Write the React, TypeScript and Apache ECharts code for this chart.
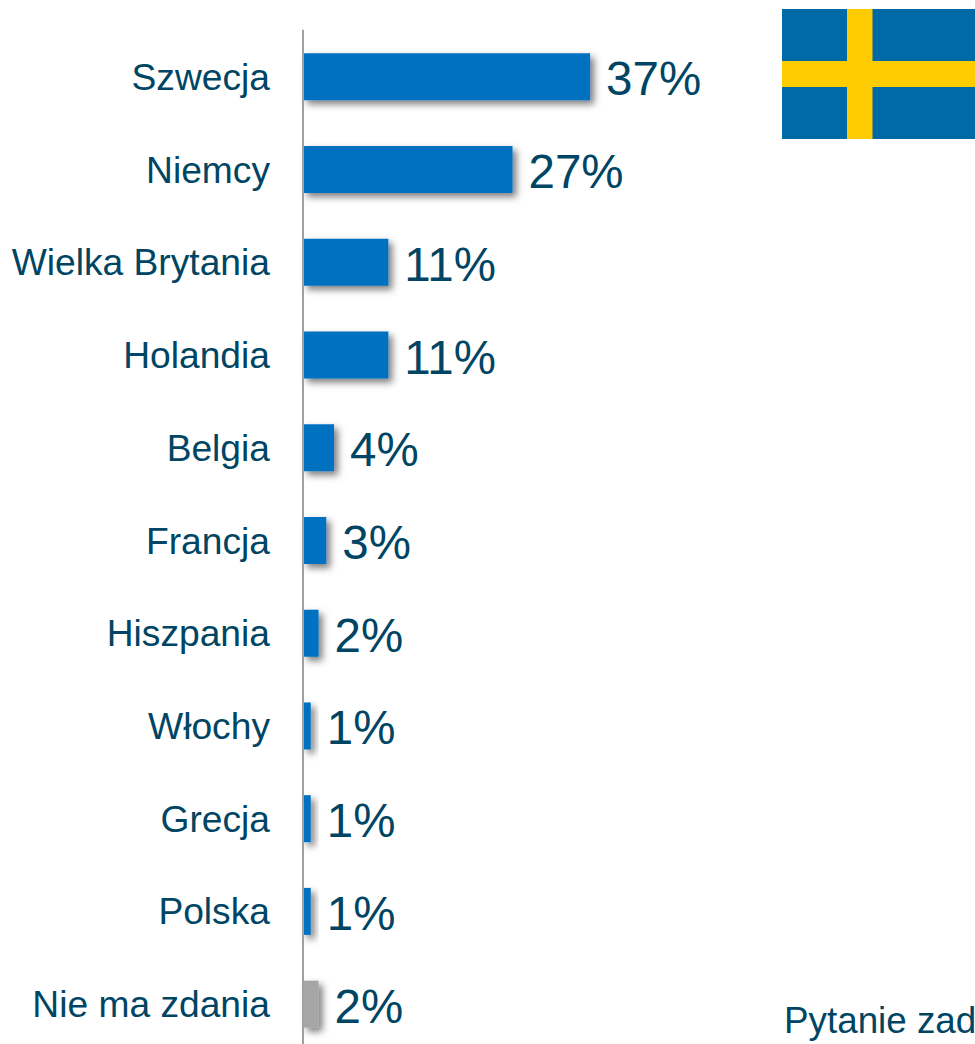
import React, { useEffect, useRef } from "react";
import * as echarts from "echarts";

const categories = ["Szwecja", "Niemcy", "Wielka Brytania", "Holandia", "Belgia", "Francja", "Hiszpania", "Włochy", "Grecja", "Polska", "Nie ma zdania"];
const values = [37, 27, 11, 11, 4, 3, 2, 1, 1, 1, 2];
const barColors = ["#0070C0", "#0070C0", "#0070C0", "#0070C0", "#0070C0", "#0070C0", "#0070C0", "#0070C0", "#0070C0", "#0070C0", "#A6A6A6"];
const questionText = "Pytanie zad";

const FONT = '"Liberation Sans", Arial, sans-serif';
const TEXT = "#004563";

export default function App() {
  const ref = useRef<HTMLDivElement>(null);
  useEffect(() => {
    const chart = echarts.init(ref.current!, undefined, { renderer: "svg" });
    chart.setOption({
      animation: false,
      backgroundColor: "#ffffff",
      grid: { left: 303, top: 30.5, width: 672, height: 1020, containLabel: false },
      xAxis: { type: "value", min: 0, max: 86.6, show: false },
      yAxis: {
        type: "category",
        inverse: true,
        z: 5,
        data: categories,
        axisTick: { show: false },
        splitLine: { show: false },
        axisLine: { show: true, lineStyle: { color: "#A0A0A0", width: 2 } },
        axisLabel: { color: TEXT, fontFamily: FONT, fontSize: 37.2, margin: 33, interval: 0, padding: [0, 0, 2, 0] },
      },
      series: [
        {
          type: "bar",
          barWidth: 47,
          data: values.map((v, i) => ({
            value: v,
            itemStyle: { color: barColors[i] },
          })),
          itemStyle: {
            shadowColor: "rgba(0,0,0,0.5)",
            shadowBlur: 7,
            shadowOffsetX: 4,
            shadowOffsetY: 4,
          },
          label: {
            show: true,
            position: "right",
            distance: 16,
            offset: [0, 2],
            formatter: "{c}%",
            color: TEXT,
            fontFamily: FONT,
            fontSize: 47.5,
          },
        },
      ],
      graphic: [
        { type: "rect", shape: { x: 782, y: 9, width: 193, height: 130 }, style: { fill: "#006AA7" }, z: 10 },
        { type: "rect", shape: { x: 847, y: 9, width: 25.5, height: 130 }, style: { fill: "#FECC00" }, z: 11 },
        { type: "rect", shape: { x: 782, y: 61, width: 193, height: 26 }, style: { fill: "#FECC00" }, z: 11 },
        {
          type: "text",
          x: 784,
          y: 1002,
          z: 12,
          style: { text: questionText, fill: TEXT, font: `36.8px ${FONT}`, textVerticalAlign: "top" },
        },
      ],
    });
    return () => chart.dispose();
  }, []);
  return (
    <div style={{ position: "fixed", left: 0, top: 0, width: 975, height: 1044, overflow: "hidden", background: "#fff" }}>
      <div ref={ref} style={{ width: 975, height: 1100 }} />
    </div>
  );
}
